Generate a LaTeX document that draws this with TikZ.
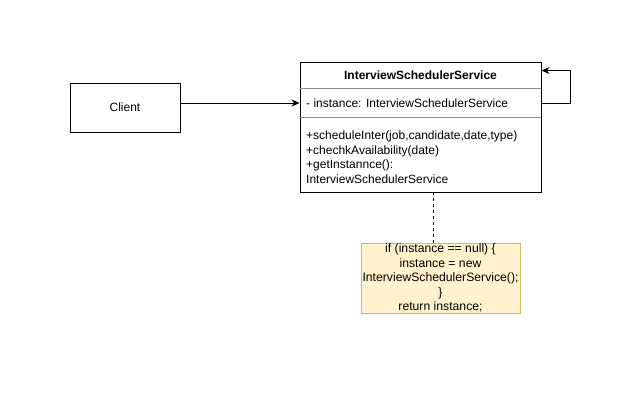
\documentclass[tikz,border=0pt]{standalone}
\usepackage{fontspec}
\setmainfont{Liberation Sans}
\usetikzlibrary{arrows.meta,positioning}
\definecolor{NoteFill}{HTML}{FFF2CC}
\definecolor{NoteLine}{HTML}{D6B656}
\definecolor{SepGray}{HTML}{8C8C8C}
\tikzset{
  umlbox/.style={
    draw=black,
    fill=white,
    line width=0.9pt,
    inner sep=0pt
  },
  umltext/.style={
    font=\fontsize{12}{14.6}\selectfont,
    inner sep=0pt,
    align=left
  },
  notebox/.style={
    draw=NoteLine,
    fill=NoteFill,
    line width=0.9pt,
    minimum width=159pt,
    minimum height=70pt,
    align=center,
    inner sep=0pt,
    font=\fontsize{12.2}{14.4}\selectfont
  },
  umlsep/.style={draw=SepGray,line width=1.2pt},
  umlarrow/.style={-{Stealth[length=8pt,width=7pt]},line width=0.9pt}
}

\begin{document}
\begin{tikzpicture}[x=1pt,y=-1pt]
    \useasboundingbox[fill=white] (0,0) rectangle (620,405);
    \node[umlbox,umltext,align=center,minimum width=110pt,minimum height=49pt] (client) at (125,107.5) {Client};
    \node[umlbox,minimum width=241pt,minimum height=130pt] (svc) at (420.5,127) {};
    \node[umltext,font=\fontsize{12}{14.6}\selectfont\bfseries] (svchead) at (420.5,75.5) {InterviewSchedulerService};
    \node[umltext,anchor=west] (svcattr) at (306,103) {- instance: InterviewSchedulerService};
    \node[umltext,anchor=north west] (svcops) at (306,130.5) {+scheduleInter(job,candidate,date,type)\\+chechkAvailability(date)\\+getInstannce():\\InterviewSchedulerService};
    % compartment lines
    \draw[umlsep] ([yshift=-27pt]svc.north west) -- ([yshift=-27pt]svc.north east);
    \draw[umlsep] ([yshift=-56pt]svc.north west) -- ([yshift=-56pt]svc.north east);
    \node[notebox] (note) at (440.5,278) {if (instance == null) \{\\instance = new\\InterviewSchedulerService();\\\}\\return instance;};
    \draw[umlarrow] (client.east |- svcattr) -- (svc.west |- svcattr);
    \draw[umlarrow] (svc.east |- svcattr) -- ++(29,0) |- ([yshift=-9pt]svc.north east);
    \draw[dashed,line width=0.9pt] ([xshift=12.5pt]svc.south) -- ([xshift=12.5pt]svc.south |- note.north);
  \end{tikzpicture}
\end{document}
